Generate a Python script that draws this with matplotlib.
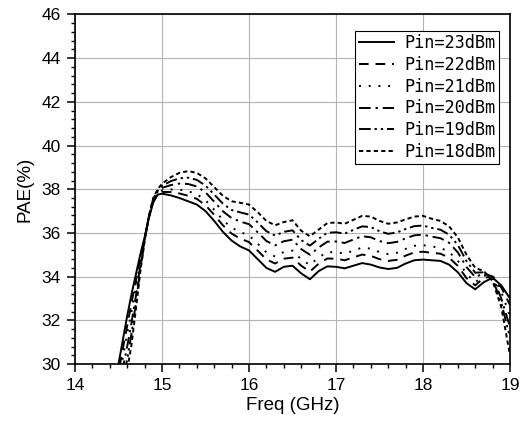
import matplotlib
matplotlib.use('Agg')
import matplotlib.pyplot as plt
from matplotlib.ticker import MultipleLocator

freq = [14.45, 14.5, 14.55, 14.6, 14.65, 14.7, 14.75, 14.8, 14.85, 14.9, 14.95,
        15.0, 15.1, 15.2, 15.3, 15.4, 15.5, 15.6, 15.7, 15.8, 15.9,
        16.0, 16.1, 16.2, 16.3, 16.4, 16.5, 16.6, 16.7, 16.8, 16.9,
        17.0, 17.1, 17.2, 17.3, 17.4, 17.5, 17.6, 17.7, 17.8, 17.9,
        18.0, 18.1, 18.2, 18.3, 18.4, 18.5, 18.6, 18.7, 18.8, 18.9, 19.0]

pae_23 = [28.8, 30.0, 31.1, 32.2, 33.2, 34.1, 35.0, 35.8, 36.7, 37.4, 37.75,
          37.8, 37.72, 37.6, 37.45, 37.3, 37.0, 36.55, 36.05, 35.65, 35.38,
          35.2, 34.8, 34.4, 34.22, 34.45, 34.5, 34.15, 33.88, 34.25, 34.47,
          34.45, 34.38, 34.5, 34.62, 34.55, 34.42, 34.35, 34.4, 34.6, 34.75,
          34.78, 34.75, 34.72, 34.55, 34.2, 33.7, 33.42, 33.75, 33.95, 33.6, 33.0]

pae_22 = [28.4, 29.6, 30.7, 31.75, 32.8, 33.8, 34.8, 35.75, 36.72, 37.44, 37.8,
          37.88, 37.87, 37.81, 37.7, 37.56, 37.27, 36.83, 36.35, 35.97, 35.74,
          35.58, 35.19, 34.79, 34.6, 34.82, 34.87, 34.5, 34.23, 34.59, 34.83,
          34.82, 34.75, 34.88, 35.01, 34.95, 34.8, 34.72, 34.77, 34.96, 35.11,
          35.14, 35.09, 35.05, 34.87, 34.49, 33.93, 33.6, 33.95, 34.0, 33.5, 32.7]

pae_21 = [28.0, 29.2, 30.3, 31.4, 32.4, 33.5, 34.6, 35.7, 36.73, 37.47, 37.83,
          37.95, 37.99, 37.98, 37.91, 37.78, 37.5, 37.06, 36.59, 36.24, 36.04,
          35.89, 35.51, 35.11, 34.92, 35.13, 35.19, 34.79, 34.53, 34.88, 35.12,
          35.12, 35.05, 35.19, 35.33, 35.28, 35.12, 35.03, 35.09, 35.27, 35.41,
          35.44, 35.38, 35.32, 35.13, 34.73, 34.13, 33.74, 34.05, 34.05, 33.3, 32.2]

pae_20 = [27.5, 28.7, 29.8, 30.8, 31.9, 33.1, 34.5, 35.68, 36.76, 37.51, 37.89,
          38.06, 38.19, 38.26, 38.24, 38.13, 37.86, 37.43, 36.99, 36.68, 36.52,
          36.4, 36.03, 35.63, 35.43, 35.62, 35.69, 35.26, 35.0, 35.33, 35.6,
          35.61, 35.54, 35.7, 35.85, 35.8, 35.63, 35.53, 35.59, 35.75, 35.89,
          35.92, 35.83, 35.76, 35.55, 35.11, 34.44, 33.98, 34.15, 34.0, 33.0, 31.7]

pae_19 = [27.0, 28.3, 29.3, 30.2, 31.4, 32.8, 34.3, 35.64, 36.78, 37.56, 37.94,
          38.15, 38.37, 38.5, 38.53, 38.43, 38.17, 37.76, 37.34, 37.05, 36.94,
          36.84, 36.48, 36.08, 35.88, 36.05, 36.12, 35.67, 35.42, 35.73, 36.01,
          36.03, 35.97, 36.14, 36.3, 36.27, 36.08, 35.96, 36.02, 36.18, 36.31,
          36.34, 36.23, 36.15, 35.92, 35.45, 34.71, 34.18, 34.2, 33.9, 32.8, 31.2]

pae_18 = [26.5, 27.8, 28.8, 29.7, 30.9, 32.5, 34.2, 35.6, 36.8, 37.6, 38.0,
          38.25, 38.55, 38.75, 38.83, 38.75, 38.5, 38.1, 37.7, 37.45, 37.38,
          37.3, 36.95, 36.55, 36.35, 36.5, 36.58, 36.1, 35.85, 36.15, 36.45,
          36.48, 36.42, 36.6, 36.78, 36.75, 36.55, 36.42, 36.48, 36.62, 36.75,
          36.78, 36.65, 36.55, 36.3, 35.8, 35.0, 34.4, 34.25, 33.8, 32.6, 30.4]

labels = ['Pin=23dBm', 'Pin=22dBm', 'Pin=21dBm', 'Pin=20dBm', 'Pin=19dBm', 'Pin=18dBm']

fig = plt.figure(figsize=(5.2, 4.26), dpi=100)
ax = fig.add_axes([0.1442, 0.1455, 0.8366, 0.8205])

lw = 1.4
ax.plot(freq, pae_23, color='black', lw=lw, linestyle='-', label=labels[0])
ax.plot(freq, pae_22, color='black', lw=lw, linestyle=(0, (5, 3.5)), label=labels[1])
ax.plot(freq, pae_21, color='black', lw=lw, linestyle=(0, (1, 4)), label=labels[2])
ax.plot(freq, pae_20, color='black', lw=lw, linestyle=(0, (6, 2.5, 1.2, 2.5)), label=labels[3])
ax.plot(freq, pae_19, color='black', lw=lw, linestyle=(0, (6, 2, 1.2, 2, 1.2, 2)), label=labels[4])
ax.plot(freq, pae_18, color='black', lw=lw, linestyle=(0, (2.2, 1.6)), label=labels[5])

ax.set_xlim(14, 19)
ax.set_ylim(30, 46)
ax.xaxis.set_major_locator(MultipleLocator(1))
ax.xaxis.set_minor_locator(MultipleLocator(0.2))
ax.yaxis.set_major_locator(MultipleLocator(2))
ax.yaxis.set_minor_locator(MultipleLocator(0.4))
ax.grid(True, which='major', color='#b4b4b4', lw=0.8)
ax.set_axisbelow(True)

ax.tick_params(which='major', direction='out', length=6, width=1.1, labelsize=12.5, pad=4)
ax.tick_params(which='minor', direction='out', length=3, width=1.0)
for lab in ax.get_xticklabels() + ax.get_yticklabels():
    lab.set_fontfamily('Liberation Sans')
for s in ax.spines.values():
    s.set_linewidth(1.2)

ax.set_xlabel('Freq (GHz)', fontsize=13.5, family='Liberation Sans', labelpad=3)
ax.set_ylabel('PAE(%)', fontsize=13.5, family='Liberation Sans', labelpad=6)

leg = ax.legend(loc='upper right', bbox_to_anchor=(0.975, 0.953), fancybox=False,
                edgecolor='black', framealpha=1, borderpad=0.2, borderaxespad=0,
                handlelength=2.1, handletextpad=0.6, labelspacing=0.22,
                prop={'family': 'DejaVu Sans Mono', 'size': 12.2})
leg.get_frame().set_linewidth(0.8)

plt.savefig('out.png', dpi=100)
plt.close()
